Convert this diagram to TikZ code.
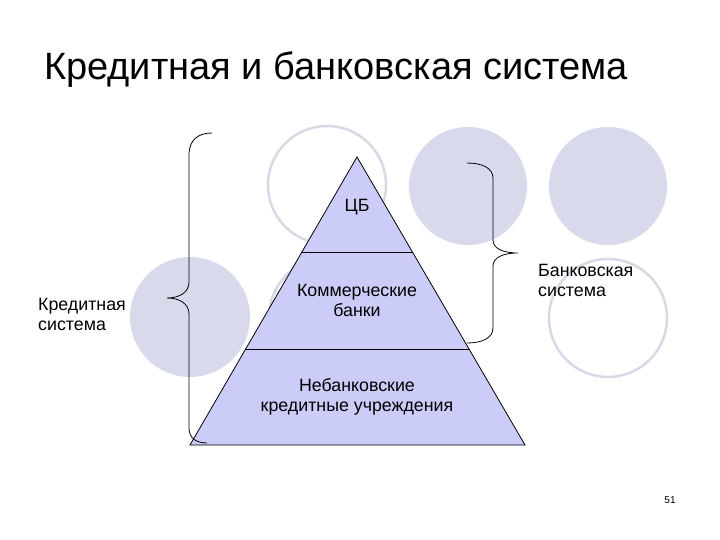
\documentclass[tikz,border=0pt]{standalone}
\usepackage{fontspec}
\setmainfont{Liberation Sans}
\definecolor{circf}{HTML}{D9D9EC}
\definecolor{circo}{HTML}{D8D8E6}
\definecolor{pyr}{HTML}{CCCCF8}
\begin{document}
\begin{tikzpicture}[x=1pt,y=-1pt,
  fcirc/.style={fill=circf,draw=none},
  ocirc/.style={draw=circo,line width=2.5pt,fill=white},
  lbl/.style={font=\fontsize{17.8}{20}\selectfont,align=center,inner sep=0pt},
  brace/.style={draw=black,line width=0.8pt}]
\useasboundingbox (0,0) rectangle (720,540);
\node[anchor=west,inner sep=0pt,font=\fontsize{38}{44}\selectfont] (title) at (44,70) {Кредитная и банковская система};
\path[ocirc] (327,185) circle (59);
\path[fcirc] (468,186) circle (59);
\path[fcirc] (608,186) circle (59);
\path[fcirc] (190,317) circle (60);
\path[ocirc] (328,317) circle (59);
\path[ocirc] (608,318) circle (59);
\coordinate (A) at (357,157);
\coordinate (BL) at (190,445);
\coordinate (BR) at (525,445);
\draw[fill=pyr,line width=0.8pt] (A) -- (BR) -- (BL) -- cycle;
\draw[line width=0.8pt] (301,252) -- (413,252);
\draw[line width=0.8pt] (246,349) -- (469,349);
\node[lbl] (cb) at (357,207) {ЦБ};
\node[lbl] (kb) at (357,300) {Коммерческие\\банки};
\node[lbl] (nb) at (357,397) {Небанковские\\кредитные учреждения};
\node[lbl,align=left,anchor=west] (ks) at (38,314) {Кредитная\\система};
\node[lbl,align=left,anchor=west] (bs) at (538,280) {Банковская\\система};
\node[inner sep=0pt,font=\fontsize{10}{11}\selectfont] (pg) at (670,500) {51};
\draw[brace] (212,133) .. controls (198,133) and (189,140) .. (189,155) -- (189,282)
  .. controls (189,292) and (180,298) .. (167,298)
  .. controls (180,298) and (189,304) .. (189,314) -- (189,428)
  .. controls (189,438) and (196,443) .. (207,443);
\draw[brace] (467,163) .. controls (482,163) and (493,168) .. (493,178) -- (493,240)
  .. controls (493,248) and (502,253) .. (518,253)
  .. controls (502,253) and (493,258) .. (493,266) -- (493,328)
  .. controls (493,338) and (482,343) .. (467,343);
\end{tikzpicture}
\end{document}
